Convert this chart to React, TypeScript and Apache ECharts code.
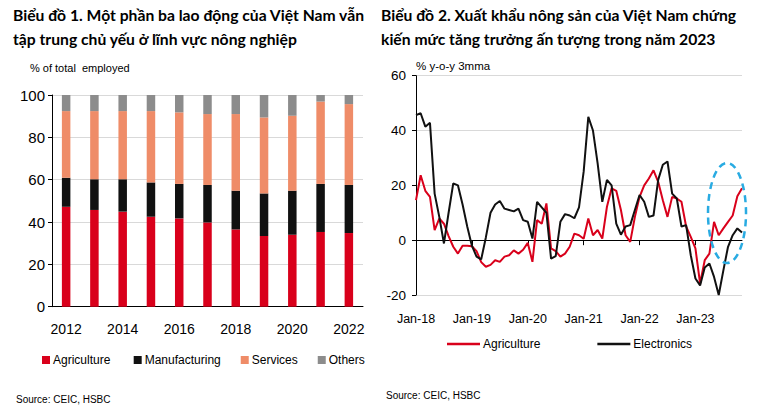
import React, { useEffect, useRef } from "react";
import * as echarts from "echarts";

const years = ["2012", "2013", "2014", "2015", "2016", "2017", "2018", "2019", "2020", "2021", "2022"];
const agriculture = [47.2, 45.7, 44.9, 42.5, 41.7, 39.8, 36.5, 33.4, 34.0, 35.3, 34.8];
const manufacturing = [13.7, 14.5, 15.3, 16.2, 16.3, 17.7, 18.3, 20.1, 20.8, 22.7, 22.7];
const services = [31.5, 32.2, 32.2, 33.7, 33.8, 33.5, 36.2, 35.9, 35.4, 38.9, 38.2];
const others = [7.6, 7.6, 7.6, 7.6, 8.2, 9.0, 9.0, 10.6, 9.8, 3.1, 4.3];

const monthNames = ["Jan", "Feb", "Mar", "Apr", "May", "Jun", "Jul", "Aug", "Sep", "Oct", "Nov", "Dec"];
const yearSuffixes = ["18", "19", "20", "21", "22", "23"];
const months: string[] = [];
yearSuffixes.forEach((y) => monthNames.forEach((m) => months.push(`${m}-${y}`)));
const monthCats = months.slice(0, 71);

const agriExports = [
  14.6, 23.7, 18, 15.8, 3.7, 7.9, 6, 1.5, -2.4, -4.9,
  -2, -2, -2.2, -4, -8, -9.7, -9, -7.3, -7.9, -6,
  -5.5, -3.7, -4.9, -3.5, -1, -7.9, 7.3, 6, 13.4, -3,
  -4, -6, -4.9, -2.4, 2.4, 1.8, 0.5, 7.9, 1.8, 3.7,
  0.6, 12.2, 18.9, 18, 11, 1.8, -0.6, 8.5, 15.8, 20,
  22.5, 25.5, 21.3, 14.6, 8.5, 15.8, 15.2, 14, 5, 1.2,
  -3, -15.8, -7.3, -4.9, 6.7, 1.8, 4.3, 6.7, 9, 16,
  18.9,
];
const electronicsExports = [
  45.6, 46.3, 41.4, 42.8, 17, 8.5, -1.2, 10, 20.7, 20,
  13, 5, -2, -6, -7, 1, 10, 13, 14.3, 11.5,
  11, 10.5, 11.5, 7.3, 6.7, 0.6, 14, 12, 10, -6.7,
  -5.8, 6.7, 9.5, 9, 8, 12, 25, 45, 40, 28,
  14, 22, 20, 6, 2, 5, 5.5, 11, 16.5, 14,
  8.5, 9, 22, 27.5, 28.7, 17, 15.2, 5, 5.5, -5.5,
  -14, -16.5, -10, -8.5, -13.4, -20, -11, -2.4, 1.8, 4.3,
  2.8,
];

const SANS = '"Liberation Sans", Arial, sans-serif';
const TITLE_FONT = 'Lato, "Noto Sans", sans-serif';
const RED = "#d9001b";
const BLACK = "#111111";
const SALMON = "#ef8c68";
const GRAY = "#8c8c8c";
const GRID_GRAY = "#d9d9d9";

export default function App() {
  const ref = useRef<HTMLDivElement>(null);
  useEffect(() => {
    if (!ref.current) return;
    const chart = echarts.init(ref.current, undefined, { renderer: "svg" });
    const titleStyle = { fontFamily: TITLE_FONT, fontWeight: "bold" as const, fontSize: 15.7, fill: "#000", lineHeight: 24 };
    chart.setOption({
      animation: false,
      backgroundColor: "#fff",
      grid: [
        { left: 52, top: 95, width: 311, height: 211.7, containLabel: false },
        { left: 416, top: 75.7, width: 326, height: 219.3, containLabel: false },
      ],
      xAxis: [
        {
          type: "category",
          gridIndex: 0,
          data: years,
          axisLine: { lineStyle: { color: "#000", width: 1 } },
          axisTick: { interval: 1, length: 5, lineStyle: { color: "#000" } },
          axisLabel: { interval: 1, fontFamily: SANS, fontSize: 14, color: "#000", margin: 15 },
        },
        {
          type: "category",
          gridIndex: 1,
          data: monthCats,
          boundaryGap: false,
          axisLine: { onZero: true, lineStyle: { color: "#000", width: 1 } },
          axisTick: { interval: (i: number) => i % 12 === 0 && i > 0, length: 5, lineStyle: { color: "#000" } },
          axisLabel: { show: false },
        },
        {
          type: "category",
          gridIndex: 1,
          data: monthCats,
          boundaryGap: false,
          position: "bottom",
          axisLine: { show: false, onZero: false },
          axisTick: { show: false },
          axisLabel: { interval: (i: number) => i % 12 === 0, fontFamily: SANS, fontSize: 12.5, color: "#000", margin: 17 },
        },
      ],
      yAxis: [
        {
          type: "value",
          gridIndex: 0,
          min: 0,
          max: 100,
          interval: 20,
          axisLine: { show: true, lineStyle: { color: "#000" } },
          axisTick: { show: true, length: 4, lineStyle: { color: "#000" } },
          axisLabel: { fontFamily: SANS, fontSize: 15, color: "#000", margin: 7 },
          splitLine: { lineStyle: { color: GRID_GRAY } },
        },
        {
          type: "value",
          gridIndex: 1,
          min: -20,
          max: 60,
          interval: 20,
          axisLine: { show: true, lineStyle: { color: "#000" } },
          axisTick: { show: true, length: 4, lineStyle: { color: "#000" } },
          axisLabel: { fontFamily: SANS, fontSize: 13.5, color: "#000", margin: 10 },
          splitLine: { lineStyle: { color: GRID_GRAY } },
        },
      ],
      legend: [
        {
          data: ["Agriculture ", "Manufacturing", "Services", "Others"],
          left: 37,
          top: 349,
          icon: "rect",
          itemWidth: 8,
          itemHeight: 8,
          itemGap: 20,
          textStyle: { fontFamily: SANS, fontSize: 12, color: "#000", padding: [0, 0, 0, -2] },
        },
        {
          data: ["Agriculture", "Electronics"],
          left: 442,
          top: 333,
          icon: "rect",
          itemWidth: 33,
          itemHeight: 2.5,
          itemGap: 57,
          textStyle: { fontFamily: SANS, fontSize: 12, color: "#000", padding: [0, 0, 0, -2] },
        },
      ],
      series: [
        { name: "Agriculture ", type: "bar", stack: "emp", xAxisIndex: 0, yAxisIndex: 0, data: agriculture, barWidth: 8.5, itemStyle: { color: RED } },
        { name: "Manufacturing", type: "bar", stack: "emp", xAxisIndex: 0, yAxisIndex: 0, data: manufacturing, barWidth: 8.5, itemStyle: { color: BLACK } },
        { name: "Services", type: "bar", stack: "emp", xAxisIndex: 0, yAxisIndex: 0, data: services, barWidth: 8.5, itemStyle: { color: SALMON } },
        { name: "Others", type: "bar", stack: "emp", xAxisIndex: 0, yAxisIndex: 0, data: others, barWidth: 8.5, itemStyle: { color: GRAY } },
        { name: "Agriculture", type: "line", xAxisIndex: 1, yAxisIndex: 1, data: agriExports, symbol: "none", lineStyle: { color: RED, width: 2 }, itemStyle: { color: RED } },
        { name: "Electronics", type: "line", xAxisIndex: 1, yAxisIndex: 1, data: electronicsExports, symbol: "none", lineStyle: { color: BLACK, width: 2 }, itemStyle: { color: BLACK } },
      ],
      graphic: [
        { type: "text", left: 13, top: 3, style: { text: "Biểu đồ 1. Một phần ba lao động của Việt Nam vẫn\ntập trung chủ yếu ở lĩnh vực nông nghiệp", ...titleStyle } },
        { type: "text", left: 381, top: 3, style: { text: "Biểu đồ 2. Xuất khẩu nông sản của Việt Nam chứng\nkiến mức tăng trưởng ấn tượng trong năm 2023", ...titleStyle } },
        { type: "text", left: 30, top: 62, style: { text: "% of total  employed", fontFamily: SANS, fontSize: 11, fill: "#000" } },
        { type: "text", left: 416, top: 60, style: { text: "% y-o-y 3mma", fontFamily: SANS, fontSize: 11.5, fill: "#000" } },
        { type: "text", left: 16, top: 394, style: { text: "Source: CEIC, HSBC", fontFamily: SANS, fontSize: 10, fill: "#000" } },
        { type: "text", left: 386, top: 390, style: { text: "Source: CEIC, HSBC", fontFamily: SANS, fontSize: 10, fill: "#000" } },
        {
          type: "ellipse",
          shape: { cx: 727, cy: 213, rx: 19, ry: 50 },
          style: { fill: "none", stroke: "#29abe2", lineWidth: 2.5, lineDash: [7, 5] },
          z: 10,
        },
      ],
    });
    return () => chart.dispose();
  }, []);
  return <div ref={ref} style={{ position: "fixed", left: 0, top: 0, width: 765, height: 407 }} />;
}
